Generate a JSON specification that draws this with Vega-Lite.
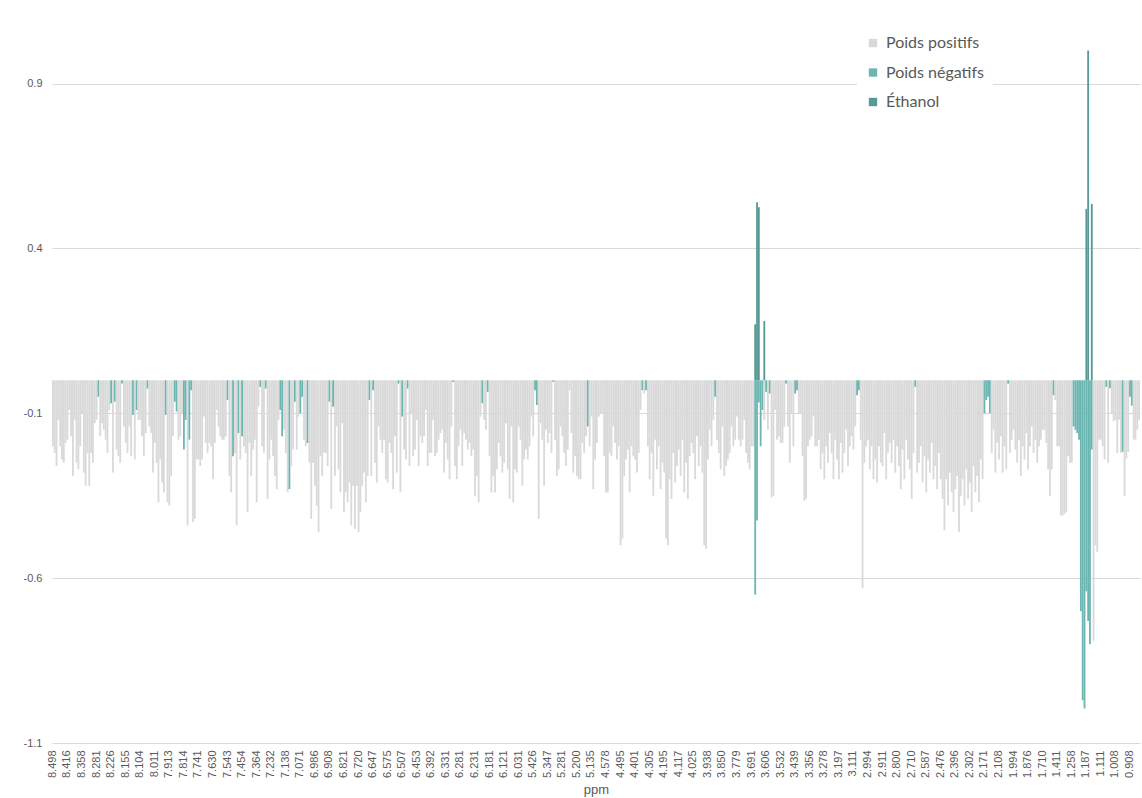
{
"$schema":"https://vega.github.io/schema/vega-lite/v6.json",
"width":1088,"height":732,
"autosize":{"type":"none"},
"padding":{"left":52,"top":11,"right":2,"bottom":55},
"background":"white",
"config":{"view":{"stroke":null}},
"data":{"values":[
{"ppm":8.498,"w":-0.2,"s":"p"},{"ppm":8.488,"w":-0.22,"s":"p"},{"ppm":8.477,"w":-0.26,"s":"p"},{"ppm":8.467,"w":-0.12,"s":"p"},{"ppm":8.457,"w":-0.2,"s":"p"},{"ppm":8.447,"w":-0.24,"s":"p"},{"ppm":8.436,"w":-0.25,"s":"p"},{"ppm":8.426,"w":-0.19,"s":"p"},
{"ppm":8.416,"w":-0.18,"s":"p"},{"ppm":8.409,"w":-0.09,"s":"p"},{"ppm":8.401,"w":-0.17,"s":"p"},{"ppm":8.394,"w":-0.29,"s":"p"},{"ppm":8.387,"w":-0.12,"s":"p"},{"ppm":8.38,"w":-0.25,"s":"p"},{"ppm":8.372,"w":-0.27,"s":"p"},{"ppm":8.365,"w":-0.2,"s":"p"},
{"ppm":8.358,"w":-0.1,"s":"p"},{"ppm":8.348,"w":-0.28,"s":"p"},{"ppm":8.339,"w":-0.32,"s":"p"},{"ppm":8.329,"w":-0.22,"s":"p"},{"ppm":8.32,"w":-0.32,"s":"p"},{"ppm":8.31,"w":-0.22,"s":"p"},{"ppm":8.3,"w":-0.25,"s":"p"},{"ppm":8.291,"w":-0.13,"s":"p"},
{"ppm":8.281,"w":-0.12,"s":"p"},{"ppm":8.274,"w":-0.05,"s":"n"},{"ppm":8.267,"w":-0.17,"s":"p"},{"ppm":8.26,"w":-0.13,"s":"p"},{"ppm":8.254,"w":-0.15,"s":"p"},{"ppm":8.247,"w":-0.18,"s":"p"},{"ppm":8.24,"w":-0.22,"s":"p"},{"ppm":8.233,"w":-0.09,"s":"p"},
{"ppm":8.226,"w":-0.07,"s":"n"},{"ppm":8.217,"w":-0.28,"s":"p"},{"ppm":8.208,"w":-0.065,"s":"n"},{"ppm":8.199,"w":-0.21,"s":"p"},{"ppm":8.191,"w":-0.23,"s":"p"},{"ppm":8.182,"w":-0.25,"s":"p"},{"ppm":8.173,"w":-0.01,"s":"n"},{"ppm":8.164,"w":-0.14,"s":"p"},
{"ppm":8.155,"w":-0.19,"s":"p"},{"ppm":8.149,"w":-0.22,"s":"p"},{"ppm":8.142,"w":-0.14,"s":"p"},{"ppm":8.136,"w":-0.23,"s":"p"},{"ppm":8.13,"w":-0.105,"s":"n"},{"ppm":8.123,"w":-0.24,"s":"p"},{"ppm":8.117,"w":-0.09,"s":"n"},{"ppm":8.11,"w":-0.12,"s":"p"},
{"ppm":8.104,"w":-0.12,"s":"p"},{"ppm":8.092,"w":-0.17,"s":"p"},{"ppm":8.081,"w":-0.23,"s":"p"},{"ppm":8.069,"w":-0.16,"s":"p"},{"ppm":8.058,"w":-0.025,"s":"n"},{"ppm":8.046,"w":-0.14,"s":"p"},{"ppm":8.034,"w":-0.16,"s":"p"},{"ppm":8.023,"w":-0.28,"s":"p"},
{"ppm":8.011,"w":-0.19,"s":"p"},{"ppm":7.999,"w":-0.25,"s":"p"},{"ppm":7.987,"w":-0.37,"s":"p"},{"ppm":7.974,"w":-0.24,"s":"p"},{"ppm":7.962,"w":-0.31,"s":"p"},{"ppm":7.95,"w":-0.34,"s":"p"},{"ppm":7.938,"w":-0.105,"s":"n"},{"ppm":7.925,"w":-0.37,"s":"p"},
{"ppm":7.913,"w":-0.38,"s":"p"},{"ppm":7.901,"w":-0.29,"s":"p"},{"ppm":7.888,"w":-0.17,"s":"p"},{"ppm":7.876,"w":-0.065,"s":"n"},{"ppm":7.864,"w":-0.095,"s":"n"},{"ppm":7.851,"w":-0.18,"s":"p"},{"ppm":7.839,"w":-0.17,"s":"p"},{"ppm":7.826,"w":-0.1,"s":"p"},
{"ppm":7.814,"w":-0.21,"s":"n"},{"ppm":7.805,"w":-0.12,"s":"n"},{"ppm":7.796,"w":-0.44,"s":"p"},{"ppm":7.787,"w":-0.18,"s":"n"},{"ppm":7.778,"w":-0.03,"s":"n"},{"ppm":7.768,"w":-0.43,"s":"p"},{"ppm":7.759,"w":-0.42,"s":"p"},{"ppm":7.75,"w":-0.24,"s":"p"},
{"ppm":7.741,"w":-0.24,"s":"p"},{"ppm":7.727,"w":-0.26,"s":"p"},{"ppm":7.713,"w":-0.24,"s":"p"},{"ppm":7.699,"w":-0.11,"s":"p"},{"ppm":7.686,"w":-0.19,"s":"p"},{"ppm":7.672,"w":-0.22,"s":"p"},{"ppm":7.658,"w":-0.19,"s":"p"},{"ppm":7.644,"w":-0.2,"s":"p"},
{"ppm":7.63,"w":-0.3,"s":"p"},{"ppm":7.619,"w":-0.19,"s":"p"},{"ppm":7.608,"w":-0.09,"s":"p"},{"ppm":7.597,"w":-0.14,"s":"p"},{"ppm":7.587,"w":-0.17,"s":"p"},{"ppm":7.576,"w":-0.18,"s":"p"},{"ppm":7.565,"w":-0.18,"s":"p"},{"ppm":7.554,"w":-0.17,"s":"p"},
{"ppm":7.543,"w":-0.06,"s":"n"},{"ppm":7.532,"w":-0.29,"s":"p"},{"ppm":7.521,"w":-0.34,"s":"p"},{"ppm":7.51,"w":-0.23,"s":"n"},{"ppm":7.499,"w":-0.22,"s":"p"},{"ppm":7.487,"w":-0.44,"s":"p"},{"ppm":7.476,"w":-0.16,"s":"n"},{"ppm":7.465,"w":-0.24,"s":"p"},
{"ppm":7.454,"w":-0.17,"s":"n"},{"ppm":7.443,"w":-0.2,"s":"p"},{"ppm":7.432,"w":-0.22,"s":"p"},{"ppm":7.42,"w":-0.4,"s":"p"},{"ppm":7.409,"w":-0.19,"s":"p"},{"ppm":7.398,"w":-0.29,"s":"p"},{"ppm":7.387,"w":-0.21,"s":"p"},{"ppm":7.375,"w":-0.18,"s":"p"},
{"ppm":7.364,"w":-0.37,"s":"p"},{"ppm":7.348,"w":-0.08,"s":"p"},{"ppm":7.331,"w":-0.02,"s":"n"},{"ppm":7.315,"w":-0.2,"s":"p"},{"ppm":7.298,"w":-0.22,"s":"p"},{"ppm":7.282,"w":-0.025,"s":"n"},{"ppm":7.265,"w":-0.36,"s":"p"},{"ppm":7.249,"w":-0.24,"s":"p"},
{"ppm":7.232,"w":-0.18,"s":"p"},{"ppm":7.22,"w":-0.23,"s":"p"},{"ppm":7.209,"w":-0.29,"s":"p"},{"ppm":7.197,"w":-0.33,"s":"p"},{"ppm":7.185,"w":-0.12,"s":"p"},{"ppm":7.173,"w":-0.09,"s":"n"},{"ppm":7.162,"w":-0.17,"s":"n"},{"ppm":7.15,"w":-0.15,"s":"p"},
{"ppm":7.138,"w":-0.22,"s":"p"},{"ppm":7.13,"w":-0.34,"s":"p"},{"ppm":7.121,"w":-0.33,"s":"n"},{"ppm":7.113,"w":-0.26,"s":"p"},{"ppm":7.105,"w":-0.21,"s":"p"},{"ppm":7.096,"w":-0.065,"s":"n"},{"ppm":7.088,"w":-0.21,"s":"p"},{"ppm":7.079,"w":-0.11,"s":"p"},
{"ppm":7.071,"w":-0.1,"s":"n"},{"ppm":7.06,"w":-0.05,"s":"n"},{"ppm":7.05,"w":-0.18,"s":"p"},{"ppm":7.039,"w":-0.2,"s":"p"},{"ppm":7.029,"w":-0.19,"s":"n"},{"ppm":7.018,"w":-0.25,"s":"p"},{"ppm":7.007,"w":-0.42,"s":"p"},{"ppm":6.997,"w":-0.25,"s":"p"},
{"ppm":6.986,"w":-0.32,"s":"p"},{"ppm":6.976,"w":-0.38,"s":"p"},{"ppm":6.967,"w":-0.46,"s":"p"},{"ppm":6.957,"w":-0.23,"s":"p"},{"ppm":6.947,"w":-0.29,"s":"p"},{"ppm":6.937,"w":-0.22,"s":"p"},{"ppm":6.928,"w":-0.22,"s":"p"},{"ppm":6.918,"w":-0.26,"s":"p"},
{"ppm":6.908,"w":-0.065,"s":"n"},{"ppm":6.897,"w":-0.39,"s":"p"},{"ppm":6.886,"w":-0.08,"s":"n"},{"ppm":6.875,"w":-0.29,"s":"p"},{"ppm":6.865,"w":-0.14,"s":"p"},{"ppm":6.854,"w":-0.27,"s":"p"},{"ppm":6.843,"w":-0.34,"s":"p"},{"ppm":6.832,"w":-0.13,"s":"p"},
{"ppm":6.821,"w":-0.4,"s":"p"},{"ppm":6.808,"w":-0.34,"s":"p"},{"ppm":6.796,"w":-0.37,"s":"p"},{"ppm":6.783,"w":-0.31,"s":"p"},{"ppm":6.771,"w":-0.44,"s":"p"},{"ppm":6.758,"w":-0.32,"s":"p"},{"ppm":6.745,"w":-0.45,"s":"p"},{"ppm":6.733,"w":-0.32,"s":"p"},
{"ppm":6.72,"w":-0.46,"s":"p"},{"ppm":6.711,"w":-0.4,"s":"p"},{"ppm":6.702,"w":-0.32,"s":"p"},{"ppm":6.693,"w":-0.28,"s":"p"},{"ppm":6.684,"w":-0.37,"s":"p"},{"ppm":6.674,"w":-0.29,"s":"p"},{"ppm":6.665,"w":-0.06,"s":"n"},{"ppm":6.656,"w":-0.29,"s":"p"},
{"ppm":6.647,"w":-0.03,"s":"n"},{"ppm":6.638,"w":-0.25,"s":"p"},{"ppm":6.629,"w":-0.31,"s":"p"},{"ppm":6.62,"w":-0.14,"s":"p"},{"ppm":6.611,"w":-0.18,"s":"p"},{"ppm":6.602,"w":-0.22,"s":"p"},{"ppm":6.593,"w":-0.18,"s":"p"},{"ppm":6.584,"w":-0.3,"s":"p"},
{"ppm":6.575,"w":-0.31,"s":"p"},{"ppm":6.567,"w":-0.19,"s":"p"},{"ppm":6.558,"w":-0.22,"s":"p"},{"ppm":6.55,"w":-0.33,"s":"p"},{"ppm":6.541,"w":-0.17,"s":"p"},{"ppm":6.533,"w":-0.28,"s":"p"},{"ppm":6.524,"w":-0.01,"s":"n"},{"ppm":6.516,"w":-0.34,"s":"p"},
{"ppm":6.507,"w":-0.11,"s":"n"},{"ppm":6.5,"w":-0.21,"s":"p"},{"ppm":6.494,"w":-0.24,"s":"p"},{"ppm":6.487,"w":-0.025,"s":"n"},{"ppm":6.48,"w":-0.26,"s":"p"},{"ppm":6.473,"w":-0.1,"s":"p"},{"ppm":6.467,"w":-0.23,"s":"p"},{"ppm":6.46,"w":-0.21,"s":"p"},
{"ppm":6.453,"w":-0.12,"s":"p"},{"ppm":6.445,"w":-0.26,"s":"p"},{"ppm":6.438,"w":-0.17,"s":"p"},{"ppm":6.43,"w":-0.19,"s":"p"},{"ppm":6.423,"w":-0.17,"s":"p"},{"ppm":6.415,"w":-0.09,"s":"p"},{"ppm":6.407,"w":-0.26,"s":"p"},{"ppm":6.4,"w":-0.22,"s":"p"},
{"ppm":6.392,"w":-0.22,"s":"p"},{"ppm":6.384,"w":-0.12,"s":"p"},{"ppm":6.377,"w":-0.23,"s":"p"},{"ppm":6.369,"w":-0.22,"s":"p"},{"ppm":6.362,"w":-0.18,"s":"p"},{"ppm":6.354,"w":-0.16,"s":"p"},{"ppm":6.346,"w":-0.15,"s":"p"},{"ppm":6.339,"w":-0.28,"s":"p"},
{"ppm":6.331,"w":-0.19,"s":"p"},{"ppm":6.325,"w":-0.24,"s":"p"},{"ppm":6.318,"w":-0.3,"s":"p"},{"ppm":6.312,"w":-0.14,"s":"p"},{"ppm":6.306,"w":-0.005,"s":"n"},{"ppm":6.3,"w":-0.26,"s":"p"},{"ppm":6.293,"w":-0.3,"s":"p"},{"ppm":6.287,"w":-0.2,"s":"p"},
{"ppm":6.281,"w":-0.15,"s":"p"},{"ppm":6.275,"w":-0.26,"s":"p"},{"ppm":6.268,"w":-0.16,"s":"p"},{"ppm":6.262,"w":-0.18,"s":"p"},{"ppm":6.256,"w":-0.21,"s":"p"},{"ppm":6.25,"w":-0.19,"s":"p"},{"ppm":6.243,"w":-0.23,"s":"p"},{"ppm":6.237,"w":-0.21,"s":"p"},
{"ppm":6.231,"w":-0.35,"s":"p"},{"ppm":6.225,"w":-0.29,"s":"p"},{"ppm":6.218,"w":-0.37,"s":"p"},{"ppm":6.212,"w":-0.11,"s":"p"},{"ppm":6.206,"w":-0.07,"s":"n"},{"ppm":6.2,"w":-0.12,"s":"p"},{"ppm":6.193,"w":-0.15,"s":"p"},{"ppm":6.187,"w":-0.035,"s":"n"},
{"ppm":6.181,"w":-0.23,"s":"p"},{"ppm":6.174,"w":-0.34,"s":"p"},{"ppm":6.166,"w":-0.29,"s":"p"},{"ppm":6.159,"w":-0.34,"s":"p"},{"ppm":6.151,"w":-0.27,"s":"p"},{"ppm":6.144,"w":-0.19,"s":"p"},{"ppm":6.136,"w":-0.23,"s":"p"},{"ppm":6.129,"w":-0.28,"s":"p"},
{"ppm":6.121,"w":-0.25,"s":"p"},{"ppm":6.11,"w":-0.13,"s":"p"},{"ppm":6.098,"w":-0.27,"s":"p"},{"ppm":6.087,"w":-0.36,"s":"p"},{"ppm":6.076,"w":-0.14,"s":"p"},{"ppm":6.065,"w":-0.37,"s":"p"},{"ppm":6.053,"w":-0.27,"s":"p"},{"ppm":6.042,"w":-0.28,"s":"p"},
{"ppm":6.031,"w":-0.14,"s":"p"},{"ppm":6.02,"w":-0.18,"s":"p"},{"ppm":6.009,"w":-0.32,"s":"p"},{"ppm":5.998,"w":-0.24,"s":"p"},{"ppm":5.987,"w":-0.21,"s":"p"},{"ppm":5.459,"w":-0.24,"s":"p"},{"ppm":5.448,"w":-0.2,"s":"p"},{"ppm":5.437,"w":-0.11,"s":"p"},
{"ppm":5.426,"w":-0.17,"s":"p"},{"ppm":5.416,"w":-0.03,"s":"n"},{"ppm":5.406,"w":-0.075,"s":"n"},{"ppm":5.396,"w":-0.42,"s":"p"},{"ppm":5.386,"w":-0.13,"s":"p"},{"ppm":5.377,"w":-0.18,"s":"p"},{"ppm":5.367,"w":-0.32,"s":"p"},{"ppm":5.357,"w":-0.15,"s":"p"},
{"ppm":5.347,"w":-0.19,"s":"p"},{"ppm":5.339,"w":-0.16,"s":"p"},{"ppm":5.331,"w":-0.22,"s":"p"},{"ppm":5.322,"w":-0.005,"s":"n"},{"ppm":5.314,"w":-0.18,"s":"p"},{"ppm":5.306,"w":-0.29,"s":"p"},{"ppm":5.298,"w":-0.27,"s":"p"},{"ppm":5.289,"w":-0.14,"s":"p"},
{"ppm":5.281,"w":-0.17,"s":"p"},{"ppm":5.271,"w":-0.22,"s":"p"},{"ppm":5.261,"w":-0.26,"s":"p"},{"ppm":5.251,"w":-0.21,"s":"p"},{"ppm":5.241,"w":-0.03,"s":"p"},{"ppm":5.23,"w":-0.16,"s":"p"},{"ppm":5.22,"w":-0.28,"s":"p"},{"ppm":5.21,"w":-0.23,"s":"p"},
{"ppm":5.2,"w":-0.29,"s":"p"},{"ppm":5.192,"w":-0.3,"s":"p"},{"ppm":5.184,"w":-0.3,"s":"p"},{"ppm":5.176,"w":-0.19,"s":"p"},{"ppm":5.168,"w":-0.22,"s":"p"},{"ppm":5.159,"w":-0.17,"s":"p"},{"ppm":5.151,"w":-0.14,"s":"n"},{"ppm":5.143,"w":-0.2,"s":"p"},
{"ppm":5.135,"w":-0.11,"s":"p"},{"ppm":5.127,"w":-0.33,"s":"p"},{"ppm":5.119,"w":-0.24,"s":"p"},{"ppm":5.111,"w":-0.19,"s":"p"},{"ppm":5.103,"w":-0.11,"s":"p"},{"ppm":4.602,"w":-0.1,"s":"p"},{"ppm":4.594,"w":-0.1,"s":"p"},{"ppm":4.586,"w":-0.23,"s":"p"},
{"ppm":4.578,"w":-0.34,"s":"p"},{"ppm":4.568,"w":-0.34,"s":"p"},{"ppm":4.557,"w":-0.22,"s":"p"},{"ppm":4.547,"w":-0.23,"s":"p"},{"ppm":4.537,"w":-0.14,"s":"p"},{"ppm":4.526,"w":-0.19,"s":"p"},{"ppm":4.516,"w":-0.24,"s":"p"},{"ppm":4.505,"w":-0.2,"s":"p"},
{"ppm":4.495,"w":-0.5,"s":"p"},{"ppm":4.483,"w":-0.48,"s":"p"},{"ppm":4.472,"w":-0.29,"s":"p"},{"ppm":4.46,"w":-0.24,"s":"p"},{"ppm":4.448,"w":-0.21,"s":"p"},{"ppm":4.436,"w":-0.34,"s":"p"},{"ppm":4.425,"w":-0.2,"s":"p"},{"ppm":4.413,"w":-0.23,"s":"p"},
{"ppm":4.401,"w":-0.24,"s":"p"},{"ppm":4.389,"w":-0.28,"s":"p"},{"ppm":4.377,"w":-0.22,"s":"p"},{"ppm":4.365,"w":-0.09,"s":"p"},{"ppm":4.353,"w":-0.03,"s":"n"},{"ppm":4.341,"w":-0.04,"s":"p"},{"ppm":4.329,"w":-0.03,"s":"n"},{"ppm":4.317,"w":-0.2,"s":"p"},
{"ppm":4.305,"w":-0.3,"s":"p"},{"ppm":4.291,"w":-0.22,"s":"p"},{"ppm":4.278,"w":-0.35,"s":"p"},{"ppm":4.264,"w":-0.18,"s":"p"},{"ppm":4.25,"w":-0.27,"s":"p"},{"ppm":4.236,"w":-0.2,"s":"p"},{"ppm":4.223,"w":-0.33,"s":"p"},{"ppm":4.209,"w":-0.25,"s":"p"},
{"ppm":4.195,"w":-0.28,"s":"p"},{"ppm":4.185,"w":-0.48,"s":"p"},{"ppm":4.176,"w":-0.5,"s":"p"},{"ppm":4.166,"w":-0.3,"s":"p"},{"ppm":4.156,"w":-0.36,"s":"p"},{"ppm":4.146,"w":-0.22,"s":"p"},{"ppm":4.137,"w":-0.31,"s":"p"},{"ppm":4.127,"w":-0.26,"s":"p"},
{"ppm":4.117,"w":-0.21,"s":"p"},{"ppm":4.106,"w":-0.29,"s":"p"},{"ppm":4.094,"w":-0.18,"s":"p"},{"ppm":4.083,"w":-0.34,"s":"p"},{"ppm":4.071,"w":-0.25,"s":"p"},{"ppm":4.06,"w":-0.36,"s":"p"},{"ppm":4.048,"w":-0.23,"s":"p"},{"ppm":4.037,"w":-0.19,"s":"p"},
{"ppm":4.025,"w":-0.22,"s":"p"},{"ppm":4.014,"w":-0.3,"s":"p"},{"ppm":4.003,"w":-0.17,"s":"p"},{"ppm":3.992,"w":-0.26,"s":"p"},{"ppm":3.982,"w":-0.2,"s":"p"},{"ppm":3.971,"w":-0.28,"s":"p"},{"ppm":3.96,"w":-0.5,"s":"p"},{"ppm":3.949,"w":-0.51,"s":"p"},
{"ppm":3.938,"w":-0.24,"s":"p"},{"ppm":3.927,"w":-0.15,"s":"p"},{"ppm":3.916,"w":-0.2,"s":"p"},{"ppm":3.905,"w":-0.12,"s":"p"},{"ppm":3.894,"w":-0.05,"s":"n"},{"ppm":3.883,"w":-0.18,"s":"p"},{"ppm":3.872,"w":-0.22,"s":"p"},{"ppm":3.861,"w":-0.27,"s":"p"},
{"ppm":3.85,"w":-0.14,"s":"p"},{"ppm":3.841,"w":-0.29,"s":"p"},{"ppm":3.832,"w":-0.26,"s":"p"},{"ppm":3.823,"w":-0.24,"s":"p"},{"ppm":3.815,"w":-0.22,"s":"p"},{"ppm":3.806,"w":-0.14,"s":"p"},{"ppm":3.797,"w":-0.2,"s":"p"},{"ppm":3.788,"w":-0.18,"s":"p"},
{"ppm":3.779,"w":-0.11,"s":"p"},{"ppm":3.768,"w":-0.18,"s":"p"},{"ppm":3.757,"w":-0.2,"s":"p"},{"ppm":3.746,"w":-0.18,"s":"p"},{"ppm":3.735,"w":-0.12,"s":"p"},{"ppm":3.724,"w":-0.22,"s":"p"},{"ppm":3.713,"w":-0.25,"s":"p"},{"ppm":3.702,"w":-0.27,"s":"p"},
{"ppm":3.691,"w":-0.2,"s":"p"},{"ppm":3.68,"w":-0.2,"s":"p"},{"ppm":3.67,"w":-0.65,"s":"n"},{"ppm":3.67,"w":0.17,"s":"e"},{"ppm":3.659,"w":-0.425,"s":"n"},{"ppm":3.659,"w":0.54,"s":"e"},{"ppm":3.649,"w":-0.067,"s":"n"},{"ppm":3.649,"w":0.525,"s":"e"},{"ppm":3.638,"w":-0.2,"s":"n"},{"ppm":3.627,"w":-0.09,"s":"n"},{"ppm":3.617,"w":-0.12,"s":"p"},{"ppm":3.617,"w":0.18,"s":"e"},
{"ppm":3.606,"w":-0.035,"s":"n"},{"ppm":3.597,"w":-0.15,"s":"p"},{"ppm":3.587,"w":-0.04,"s":"n"},{"ppm":3.578,"w":-0.355,"s":"p"},{"ppm":3.569,"w":-0.35,"s":"p"},{"ppm":3.56,"w":-0.09,"s":"p"},{"ppm":3.55,"w":-0.18,"s":"p"},{"ppm":3.541,"w":-0.17,"s":"p"},
{"ppm":3.532,"w":-0.19,"s":"p"},{"ppm":3.52,"w":-0.19,"s":"p"},{"ppm":3.509,"w":-0.14,"s":"p"},{"ppm":3.497,"w":-0.01,"s":"n"},{"ppm":3.486,"w":-0.14,"s":"p"},{"ppm":3.474,"w":-0.25,"s":"p"},{"ppm":3.462,"w":-0.1,"s":"p"},{"ppm":3.451,"w":-0.2,"s":"p"},
{"ppm":3.439,"w":-0.04,"s":"n"},{"ppm":3.429,"w":-0.03,"s":"n"},{"ppm":3.418,"w":-0.1,"s":"p"},{"ppm":3.408,"w":-0.1,"s":"p"},{"ppm":3.398,"w":-0.23,"s":"p"},{"ppm":3.387,"w":-0.365,"s":"p"},{"ppm":3.377,"w":-0.36,"s":"p"},{"ppm":3.366,"w":-0.2,"s":"p"},
{"ppm":3.356,"w":-0.18,"s":"p"},{"ppm":3.346,"w":-0.17,"s":"p"},{"ppm":3.337,"w":-0.11,"s":"p"},{"ppm":3.327,"w":-0.2,"s":"p"},{"ppm":3.317,"w":-0.2,"s":"p"},{"ppm":3.307,"w":-0.18,"s":"p"},{"ppm":3.298,"w":-0.27,"s":"p"},{"ppm":3.288,"w":-0.22,"s":"p"},
{"ppm":3.278,"w":-0.3,"s":"p"},{"ppm":3.268,"w":-0.2,"s":"p"},{"ppm":3.258,"w":-0.25,"s":"p"},{"ppm":3.248,"w":-0.16,"s":"p"},{"ppm":3.238,"w":-0.22,"s":"p"},{"ppm":3.227,"w":-0.3,"s":"p"},{"ppm":3.217,"w":-0.18,"s":"p"},{"ppm":3.207,"w":-0.24,"s":"p"},
{"ppm":3.197,"w":-0.3,"s":"p"},{"ppm":3.186,"w":-0.19,"s":"p"},{"ppm":3.176,"w":-0.28,"s":"p"},{"ppm":3.165,"w":-0.22,"s":"p"},{"ppm":3.154,"w":-0.15,"s":"p"},{"ppm":3.143,"w":-0.26,"s":"p"},{"ppm":3.133,"w":-0.2,"s":"p"},{"ppm":3.122,"w":-0.17,"s":"p"},
{"ppm":3.111,"w":-0.21,"s":"p"},{"ppm":3.096,"w":-0.14,"s":"p"},{"ppm":3.082,"w":-0.045,"s":"n"},{"ppm":3.067,"w":-0.03,"s":"n"},{"ppm":3.053,"w":-0.18,"s":"p"},{"ppm":3.038,"w":-0.63,"s":"p"},{"ppm":3.023,"w":-0.25,"s":"p"},{"ppm":3.009,"w":-0.2,"s":"p"},
{"ppm":2.994,"w":-0.18,"s":"p"},{"ppm":2.984,"w":-0.27,"s":"p"},{"ppm":2.973,"w":-0.2,"s":"p"},{"ppm":2.963,"w":-0.3,"s":"p"},{"ppm":2.953,"w":-0.24,"s":"p"},{"ppm":2.942,"w":-0.31,"s":"p"},{"ppm":2.932,"w":-0.2,"s":"p"},{"ppm":2.921,"w":-0.25,"s":"p"},
{"ppm":2.911,"w":-0.26,"s":"p"},{"ppm":2.897,"w":-0.16,"s":"p"},{"ppm":2.883,"w":-0.3,"s":"p"},{"ppm":2.869,"w":-0.22,"s":"p"},{"ppm":2.856,"w":-0.19,"s":"p"},{"ppm":2.842,"w":-0.25,"s":"p"},{"ppm":2.828,"w":-0.18,"s":"p"},{"ppm":2.814,"w":-0.28,"s":"p"},
{"ppm":2.8,"w":-0.2,"s":"p"},{"ppm":2.789,"w":-0.26,"s":"p"},{"ppm":2.778,"w":-0.33,"s":"p"},{"ppm":2.766,"w":-0.21,"s":"p"},{"ppm":2.755,"w":-0.3,"s":"p"},{"ppm":2.744,"w":-0.18,"s":"p"},{"ppm":2.733,"w":-0.24,"s":"p"},{"ppm":2.721,"w":-0.27,"s":"p"},
{"ppm":2.71,"w":-0.36,"s":"p"},{"ppm":2.695,"w":-0.22,"s":"p"},{"ppm":2.679,"w":-0.02,"s":"n"},{"ppm":2.664,"w":-0.28,"s":"p"},{"ppm":2.649,"w":-0.25,"s":"p"},{"ppm":2.633,"w":-0.2,"s":"p"},{"ppm":2.618,"w":-0.31,"s":"p"},{"ppm":2.602,"w":-0.23,"s":"p"},
{"ppm":2.587,"w":-0.34,"s":"p"},{"ppm":2.573,"w":-0.24,"s":"p"},{"ppm":2.559,"w":-0.28,"s":"p"},{"ppm":2.545,"w":-0.19,"s":"p"},{"ppm":2.532,"w":-0.3,"s":"p"},{"ppm":2.518,"w":-0.26,"s":"p"},{"ppm":2.504,"w":-0.33,"s":"p"},{"ppm":2.49,"w":-0.22,"s":"p"},
{"ppm":2.476,"w":-0.3,"s":"p"},{"ppm":2.466,"w":-0.36,"s":"p"},{"ppm":2.456,"w":-0.455,"s":"p"},{"ppm":2.446,"w":-0.3,"s":"p"},{"ppm":2.436,"w":-0.38,"s":"p"},{"ppm":2.426,"w":-0.28,"s":"p"},{"ppm":2.416,"w":-0.34,"s":"p"},{"ppm":2.406,"w":-0.4,"s":"p"},
{"ppm":2.396,"w":-0.33,"s":"p"},{"ppm":2.384,"w":-0.29,"s":"p"},{"ppm":2.373,"w":-0.46,"s":"p"},{"ppm":2.361,"w":-0.35,"s":"p"},{"ppm":2.349,"w":-0.3,"s":"p"},{"ppm":2.337,"w":-0.38,"s":"p"},{"ppm":2.326,"w":-0.27,"s":"p"},{"ppm":2.314,"w":-0.36,"s":"p"},
{"ppm":2.302,"w":-0.31,"s":"p"},{"ppm":2.286,"w":-0.4,"s":"p"},{"ppm":2.269,"w":-0.26,"s":"p"},{"ppm":2.253,"w":-0.34,"s":"p"},{"ppm":2.237,"w":-0.29,"s":"p"},{"ppm":2.22,"w":-0.37,"s":"p"},{"ppm":2.204,"w":-0.24,"s":"p"},{"ppm":2.188,"w":-0.3,"s":"p"},
{"ppm":2.171,"w":-0.1,"s":"n"},{"ppm":2.163,"w":-0.06,"s":"n"},{"ppm":2.155,"w":-0.05,"s":"n"},{"ppm":2.147,"w":-0.1,"s":"n"},{"ppm":2.14,"w":-0.22,"s":"p"},{"ppm":2.132,"w":-0.15,"s":"p"},{"ppm":2.124,"w":-0.28,"s":"p"},{"ppm":2.116,"w":-0.19,"s":"p"},
{"ppm":2.108,"w":-0.24,"s":"p"},{"ppm":2.094,"w":-0.17,"s":"p"},{"ppm":2.079,"w":-0.28,"s":"p"},{"ppm":2.065,"w":-0.2,"s":"p"},{"ppm":2.051,"w":-0.27,"s":"p"},{"ppm":2.037,"w":-0.01,"s":"n"},{"ppm":2.023,"w":-0.22,"s":"p"},{"ppm":2.008,"w":-0.18,"s":"p"},
{"ppm":1.994,"w":-0.15,"s":"p"},{"ppm":1.979,"w":-0.21,"s":"p"},{"ppm":1.964,"w":-0.25,"s":"p"},{"ppm":1.95,"w":-0.18,"s":"p"},{"ppm":1.935,"w":-0.29,"s":"p"},{"ppm":1.92,"w":-0.2,"s":"p"},{"ppm":1.906,"w":-0.24,"s":"p"},{"ppm":1.891,"w":-0.16,"s":"p"},
{"ppm":1.876,"w":-0.27,"s":"p"},{"ppm":1.855,"w":-0.2,"s":"p"},{"ppm":1.835,"w":-0.14,"s":"p"},{"ppm":1.814,"w":-0.22,"s":"p"},{"ppm":1.793,"w":-0.18,"s":"p"},{"ppm":1.772,"w":-0.25,"s":"p"},{"ppm":1.752,"w":-0.2,"s":"p"},{"ppm":1.731,"w":-0.18,"s":"p"},
{"ppm":1.71,"w":-0.15,"s":"p"},{"ppm":1.673,"w":-0.15,"s":"p"},{"ppm":1.635,"w":-0.19,"s":"p"},{"ppm":1.598,"w":-0.27,"s":"p"},{"ppm":1.561,"w":-0.35,"s":"p"},{"ppm":1.523,"w":-0.27,"s":"p"},{"ppm":1.486,"w":-0.045,"s":"n"},{"ppm":1.448,"w":-0.06,"s":"p"},
{"ppm":1.411,"w":-0.2,"s":"p"},{"ppm":1.392,"w":-0.2,"s":"p"},{"ppm":1.373,"w":-0.41,"s":"p"},{"ppm":1.354,"w":-0.41,"s":"p"},{"ppm":1.335,"w":-0.405,"s":"p"},{"ppm":1.315,"w":-0.4,"s":"p"},{"ppm":1.296,"w":-0.23,"s":"p"},{"ppm":1.277,"w":-0.25,"s":"p"},
{"ppm":1.258,"w":-0.25,"s":"p"},{"ppm":1.249,"w":-0.14,"s":"n"},{"ppm":1.24,"w":-0.15,"s":"n"},{"ppm":1.231,"w":-0.16,"s":"n"},{"ppm":1.223,"w":-0.18,"s":"n"},{"ppm":1.214,"w":-0.7,"s":"n"},{"ppm":1.205,"w":-0.97,"s":"n"},{"ppm":1.196,"w":-0.995,"s":"n"},
{"ppm":1.187,"w":-0.64,"s":"n"},{"ppm":1.187,"w":0.52,"s":"e"},{"ppm":1.178,"w":-0.73,"s":"n"},{"ppm":1.178,"w":1.0,"s":"e"},{"ppm":1.168,"w":-0.8,"s":"n"},{"ppm":1.159,"w":-0.21,"s":"n"},{"ppm":1.159,"w":0.535,"s":"e"},{"ppm":1.149,"w":-0.79,"s":"p"},{"ppm":1.14,"w":-0.5,"s":"p"},{"ppm":1.13,"w":-0.52,"s":"p"},{"ppm":1.121,"w":-0.18,"s":"p"},
{"ppm":1.111,"w":-0.18,"s":"p"},{"ppm":1.098,"w":-0.2,"s":"p"},{"ppm":1.085,"w":-0.24,"s":"p"},{"ppm":1.072,"w":-0.02,"s":"n"},{"ppm":1.059,"w":-0.25,"s":"p"},{"ppm":1.046,"w":-0.024,"s":"n"},{"ppm":1.033,"w":-0.1,"s":"p"},{"ppm":1.021,"w":-0.124,"s":"p"},
{"ppm":1.008,"w":-0.12,"s":"p"},{"ppm":0.996,"w":-0.22,"s":"p"},{"ppm":0.983,"w":-0.12,"s":"p"},{"ppm":0.971,"w":-0.22,"s":"p"},{"ppm":0.958,"w":-0.217,"s":"n"},{"ppm":0.946,"w":-0.35,"s":"p"},{"ppm":0.933,"w":-0.237,"s":"p"},{"ppm":0.921,"w":-0.217,"s":"p"},
{"ppm":0.908,"w":-0.05,"s":"n"},{"ppm":0.896,"w":-0.077,"s":"n"},{"ppm":0.883,"w":-0.18,"s":"p"},{"ppm":0.871,"w":-0.18,"s":"p"},{"ppm":0.858,"w":-0.15,"s":"p"},{"ppm":0.846,"w":-0.12,"s":"p"}
]},
"mark":{"type":"bar"},
"encoding":{
"x":{"field":"ppm","type":"ordinal","sort":null,
"scale":{"paddingInner":0,"paddingOuter":0},
"axis":{"title":"ppm","values":[8.498,8.416,8.358,8.281,8.226,8.155,8.104,8.011,7.913,7.814,7.741,7.63,7.543,7.454,7.364,7.232,7.138,7.071,6.986,6.908,6.821,6.72,6.647,6.575,6.507,6.453,6.392,6.331,6.281,6.231,6.181,6.121,6.031,5.426,5.347,5.281,5.2,5.135,4.578,4.495,4.401,4.305,4.195,4.117,4.025,3.938,3.85,3.779,3.691,3.606,3.532,3.439,3.356,3.278,3.197,3.111,2.994,2.911,2.8,2.71,2.587,2.476,2.396,2.302,2.171,2.108,1.994,1.876,1.71,1.411,1.258,1.187,1.111,1.008,0.908],
"labelExpr":"format(datum.value, '.3f')","labelAngle":-90,"labelFont":"Liberation Sans","labelFontSize":11,"labelColor":"#595959","labelPadding":7,
"ticks":false,"domain":false,"grid":false,
"titleFont":"Liberation Sans","titleFontSize":13,"titleFontWeight":"normal","titleColor":"#595959","titlePadding":6}},
"y":{"field":"w","type":"quantitative","stack":"zero",
"scale":{"domain":[-1.1,1.12],"nice":false,"zero":false},
"axis":{"title":null,"values":[-1.1,-0.6,-0.1,0.4,0.9],"labelExpr":"'' + datum.value","labelFont":"Liberation Sans","labelFontSize":11,"labelColor":"#595959","labelPadding":10,
"ticks":false,"domain":false,"grid":true,"gridColor":"#d9d9d9","gridWidth":1}},
"color":{"field":"s","type":"nominal",
"scale":{"domain":["p","n","e"],"range":["#d9d9d9","#6cb6b2","#579994"]},
"legend":{"title":null,"orient":"none","legendX":805,"legendY":16,"direction":"vertical",
"labelExpr":"datum.label == 'p' ? 'Poids positifs' : datum.label == 'n' ? 'Poids négatifs' : 'Éthanol'",
"symbolType":"square","symbolSize":70,"symbolStrokeWidth":0,"labelFont":"Lato","labelFontSize":16,"labelColor":"#595959","labelOffset":5,"rowPadding":13.5,
"fillColor":"white","padding":8}}
}
}
